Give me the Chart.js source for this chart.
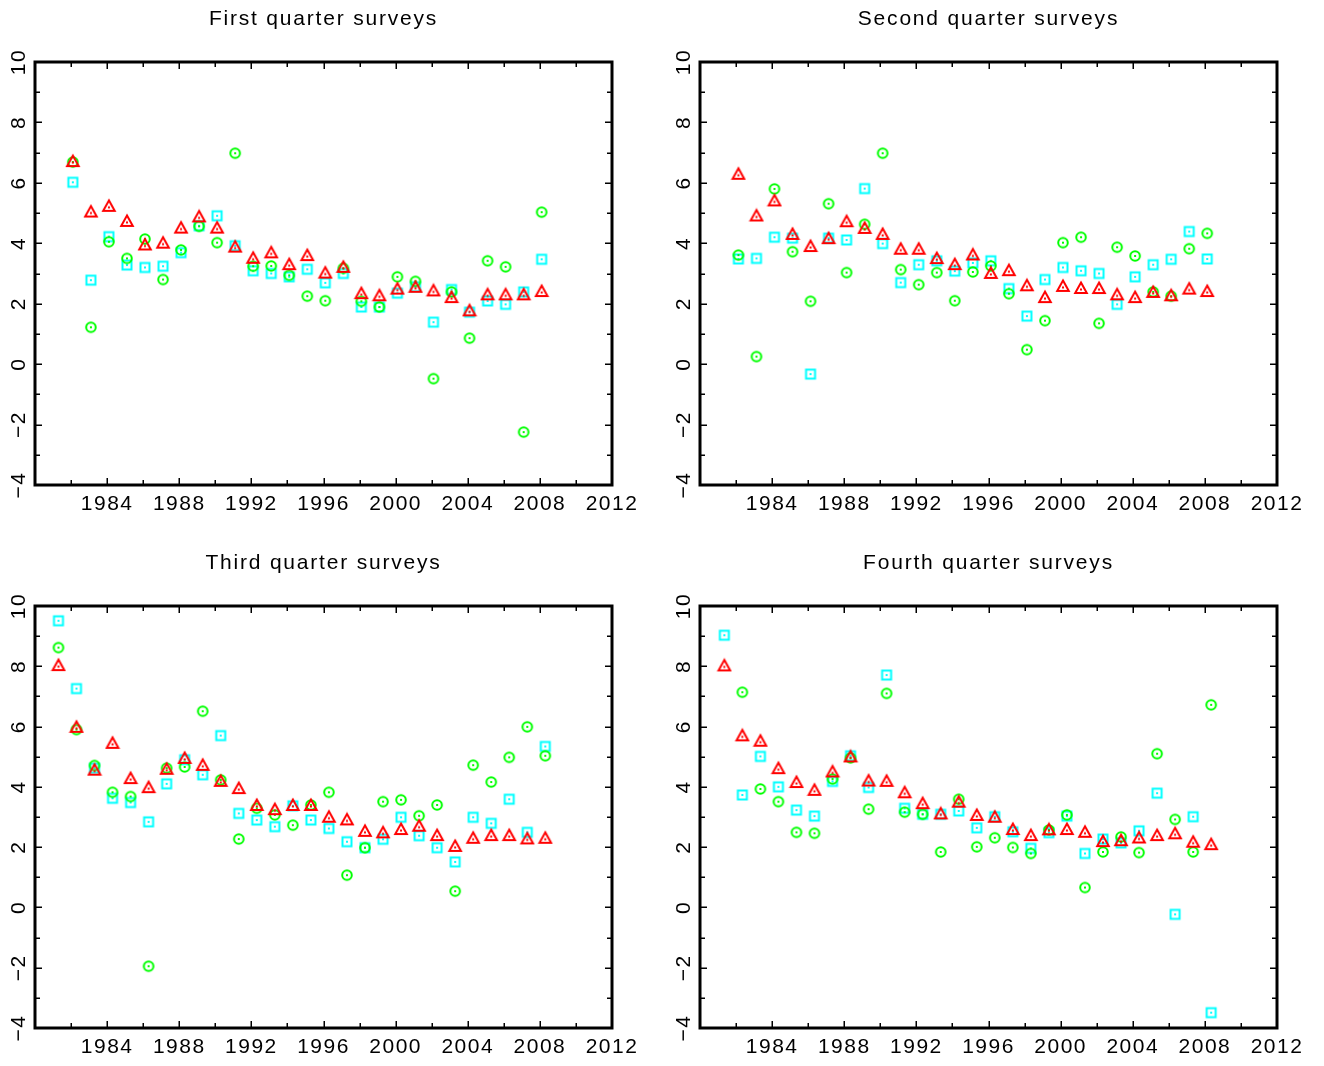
<!DOCTYPE html>
<html>
<head>
<meta charset="utf-8">
<script src="https://cdn.jsdelivr.net/npm/chart.js@4/dist/chart.umd.min.js"></script>
<style>
  body { margin: 0; background: #fff; }
  #wrap { position: relative; width: 1324px; height: 1066px; }
  canvas { position: absolute; }
</style>
</head>
<body>
<div id="wrap">
  <canvas id="q1" width="662" height="533" style="left:0;top:0"></canvas>
  <canvas id="q2" width="662" height="533" style="left:662px;top:0"></canvas>
  <canvas id="q3" width="662" height="533" style="left:0;top:533px"></canvas>
  <canvas id="q4" width="662" height="533" style="left:662px;top:533px"></canvas>
</div>
<script>
// survey years
var years82 = [1982, 1983, 1984, 1985, 1986, 1987, 1988, 1989, 1990, 1991, 1992, 1993, 1994, 1995,
  1996, 1997, 1998, 1999, 2000, 2001, 2002, 2003, 2004, 2005, 2006, 2007, 2008];
var years81 = [1981].concat(years82);
// time of year of each quarter's survey
var surveyFraction = [0.10, 0.13, 0.30, 0.35];

var titles = ['First quarter surveys', 'Second quarter surveys', 'Third quarter surveys', 'Fourth quarter surveys'];
var xTickLabels = ['1984', '1988', '1992', '1996', '2000', '2004', '2008', '2012'];
var yTickLabels = ['\u22124', '\u22122', '0', '2', '4', '6', '8', '10'];

// first quarter
var q1Red = [6.72, 5.05, 5.24, 4.74, 3.96, 4.02, 4.52, 4.89, 4.52, 3.89, 3.52, 3.70, 3.31, 3.61, 3.03,
  3.22, 2.35, 2.28, 2.50, 2.56, 2.44, 2.22, 1.78, 2.31, 2.31, 2.31, 2.42];
var q1Cyan = [6.02, 2.78, 4.22, 3.28, 3.20, 3.24, 3.69, 4.58, 4.91, 3.92, 3.09, 3.00, 2.89, 3.14, 2.69,
  3.00, 1.89, 1.89, 2.35, 2.56, 1.39, 2.47, 1.72, 2.09, 1.98, 2.39, 3.47];
var q1Green = [6.69, 1.22, 4.05, 3.50, 4.14, 2.80, 3.78, 4.56, 4.02, 6.98, 3.24, 3.25, 2.94, 2.25, 2.10,
  3.17, 2.08, 1.89, 2.89, 2.74, -0.48, 2.39, 0.86, 3.42, 3.22, -2.25, 5.03];

// second quarter
var q2Red = [6.30, 4.92, 5.42, 4.31, 3.91, 4.17, 4.73, 4.51, 4.31, 3.82, 3.82, 3.51, 3.31, 3.63, 3.02,
  3.11, 2.61, 2.22, 2.59, 2.52, 2.52, 2.31, 2.22, 2.39, 2.28, 2.50, 2.42];
var q2Cyan = [3.48, 3.50, 4.20, 4.17, -0.33, 4.17, 4.11, 5.81, 3.99, 2.70, 3.29, 3.42, 3.08, 3.35, 3.42,
  2.50, 1.59, 2.80, 3.20, 3.09, 3.00, 1.98, 2.89, 3.29, 3.47, 4.39, 3.48];
var q2Green = [3.61, 0.25, 5.80, 3.72, 2.08, 5.31, 3.03, 4.63, 6.98, 3.13, 2.63, 3.03, 2.10, 3.05, 3.25,
  2.33, 0.48, 1.44, 4.02, 4.20, 1.35, 3.87, 3.58, 2.39, 2.25, 3.82, 4.33];

// third quarter
var q3Red = [8.04, 5.99, 4.57, 5.46, 4.29, 3.99, 4.60, 4.96, 4.73, 4.20, 3.96, 3.40, 3.26, 3.40, 3.40, 3.01,
  2.92, 2.54, 2.49, 2.60, 2.71, 2.40, 2.04, 2.31, 2.40, 2.40, 2.29, 2.31];
var q3Cyan = [9.51, 7.26, 4.62, 3.62, 3.48, 2.84, 4.10, 4.90, 4.40, 5.70, 3.12, 2.90, 2.68, 3.37, 2.90, 2.62,
  2.18, 1.98, 2.26, 2.99, 2.38, 1.98, 1.51, 2.99, 2.79, 3.59, 2.49, 5.34];
var q3Green = [8.62, 5.90, 4.71, 3.82, 3.68, -1.95, 4.62, 4.66, 6.51, 4.23, 2.27, 3.29, 3.07, 2.73, 3.40, 3.82,
  1.07, 1.98, 3.51, 3.57, 3.04, 3.40, 0.54, 4.72, 4.16, 4.98, 5.99, 5.03];

// fourth quarter
var q4Red = [8.03, 5.71, 5.53, 4.62, 4.16, 3.90, 4.51, 5.01, 4.21, 4.20, 3.82, 3.46, 3.12, 3.51, 3.07, 3.01,
  2.60, 2.40, 2.59, 2.60, 2.51, 2.20, 2.23, 2.32, 2.40, 2.46, 2.18, 2.10];
var q4Cyan = [9.03, 3.73, 5.01, 4.00, 3.23, 3.03, 4.18, 5.03, 3.98, 7.71, 3.29, 3.09, 3.09, 3.20, 2.64, 3.01,
  2.51, 1.96, 2.48, 3.03, 1.79, 2.27, 2.14, 2.54, 3.79, -0.23, 3.01, -3.49];
var q4Green = [null, 7.14, 3.93, 3.51, 2.49, 2.46, 4.26, 4.96, 3.26, 7.10, 3.16, 3.09, 1.84, 3.59, 2.01, 2.31,
  1.99, 1.79, 2.57, 3.07, 0.66, 1.84, 2.34, 1.82, 5.10, 2.92, 1.84, 6.72];

var FONT = '21px "Liberation Sans", Arial, sans-serif';

function marker(kind, color) {
  var c = document.createElement('canvas');
  c.width = 16; c.height = 16;
  var g = c.getContext('2d');
  g.strokeStyle = color;
  g.fillStyle = color;
  g.lineWidth = 2;
  g.beginPath();
  if (kind === 'triangle') {
    g.moveTo(8, 2.5);
    g.lineTo(13.8, 13);
    g.lineTo(2.2, 13);
    g.closePath();
  } else if (kind === 'square') {
    g.rect(3.5, 3.5, 9, 9);
  } else {
    g.arc(8, 8, 4.8, 0, Math.PI * 2);
  }
  g.stroke();
  g.fillRect(7, kind === 'triangle' ? 8.5 : 7, 2, 2);
  return c;
}

var triRed = marker('triangle', '#ff0000');
var sqCyan = marker('square', '#00ffff');
var circGreen = marker('circle', '#00ff00');

function points(years, frac, values) {
  var out = [];
  for (var i = 0; i < years.length; i++) {
    if (values[i] !== null) out.push({x: years[i] + frac, y: values[i]});
  }
  return out;
}

var framePlugin = {
  id: 'frame',
  afterDraw: function(chart) {
    var ctx = chart.ctx, a = chart.chartArea;
    var x = chart.scales.x, y = chart.scales.y;
    ctx.save();
    ctx.strokeStyle = '#000';
    ctx.fillStyle = '#000';

    // inward ticks on all four sides
    ctx.lineWidth = 1.5;
    ctx.beginPath();
    for (var v = x.min + 2; v < x.max; v += 2) {
      var px = Math.round(x.getPixelForValue(v)) + 0.25;
      var len = (v % 4 === 0) ? 7 : 5;
      ctx.moveTo(px, a.bottom); ctx.lineTo(px, a.bottom - len);
      ctx.moveTo(px, a.top); ctx.lineTo(px, a.top + len);
    }
    for (var w = y.min + 1; w < y.max; w += 1) {
      var py = Math.round(y.getPixelForValue(w)) + 0.25;
      var len2 = (w % 2 === 0) ? 7 : 5;
      ctx.moveTo(a.left, py); ctx.lineTo(a.left + len2, py);
      ctx.moveTo(a.right, py); ctx.lineTo(a.right - len2, py);
    }
    ctx.stroke();

    ctx.lineWidth = 3;
    ctx.strokeRect(a.left, a.top, a.right - a.left, a.bottom - a.top);

    ctx.font = FONT;
    ctx.letterSpacing = '1.5px';
    ctx.textAlign = 'center';
    ctx.textBaseline = 'middle';
    xTickLabels.forEach(function(t) {
      ctx.fillText(t, x.getPixelForValue(Number(t)), a.bottom + 19);
    });
    yTickLabels.forEach(function(t) {
      var val = Number(t.replace('\u2212', '-'));
      ctx.save();
      ctx.translate(a.left - 17, y.getPixelForValue(val));
      ctx.rotate(-Math.PI / 2);
      ctx.fillText(t, 0, 1);
      ctx.restore();
    });

    ctx.font = '21px "Liberation Sans", Arial, sans-serif';
    ctx.letterSpacing = '1.8px';
    ctx.fillText(chart.options.plugins.frame.title, (a.left + a.right) / 2, a.top - 43);
    ctx.restore();
  }
};

function makeChart(id, idx, years, red, cyan, green, pad) {
  var frac = surveyFraction[idx];
  new Chart(document.getElementById(id).getContext('2d'), {
    type: 'scatter',
    data: {
      datasets: [
        {label: 'red', data: points(years, frac, red), pointStyle: triRed, pointRadius: 7},
        {label: 'green', data: points(years, frac, green), pointStyle: circGreen, pointRadius: 7},
        {label: 'cyan', data: points(years, frac, cyan), pointStyle: sqCyan, pointRadius: 7}
      ]
    },
    options: {
      responsive: false,
      animation: false,
      devicePixelRatio: 1,
      clip: false,
      layout: {padding: pad},
      scales: {
        x: {type: 'linear', min: 1980, max: 2012, display: false},
        y: {type: 'linear', min: -4, max: 10, display: false}
      },
      plugins: {
        legend: {display: false},
        tooltip: {enabled: false},
        frame: {title: titles[idx]}
      }
    },
    plugins: [framePlugin]
  });
}

makeChart('q1', 0, years82, q1Red, q1Cyan, q1Green, {left: 35, right: 50, top: 62, bottom: 48});
makeChart('q2', 1, years82, q2Red, q2Cyan, q2Green, {left: 38, right: 47, top: 62, bottom: 48});
makeChart('q3', 2, years81, q3Red, q3Cyan, q3Green, {left: 35, right: 50, top: 73, bottom: 38});
makeChart('q4', 3, years81, q4Red, q4Cyan, q4Green, {left: 38, right: 47, top: 73, bottom: 38});
</script>
</body>
</html>
